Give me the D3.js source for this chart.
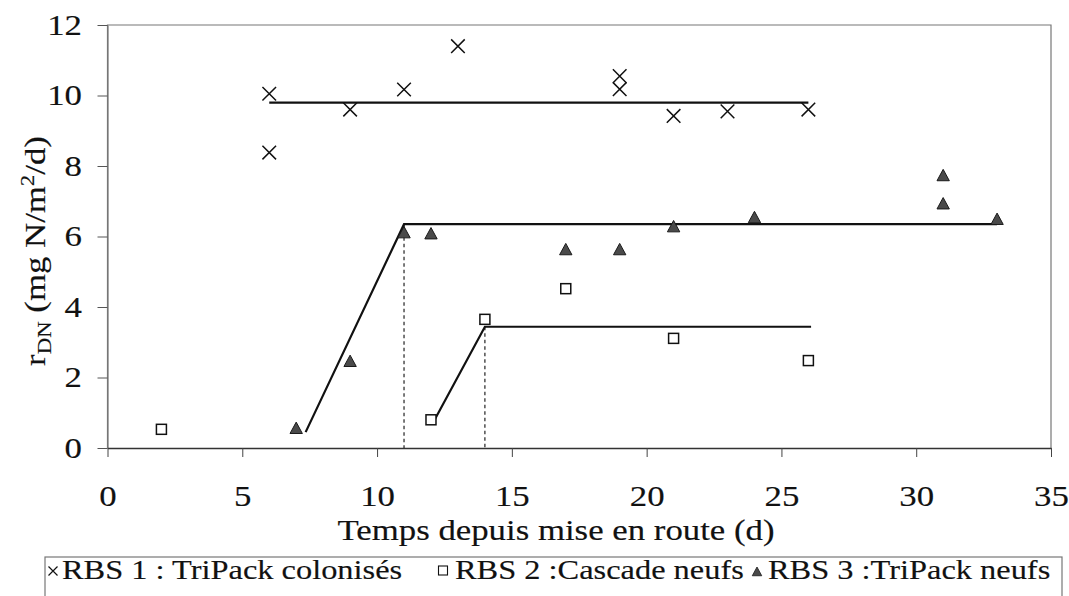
<!DOCTYPE html>
<html>
<head>
<meta charset="utf-8">
<script src="https://cdn.jsdelivr.net/npm/d3@7/dist/d3.min.js"></script>
<style>
  html, body { margin: 0; padding: 0; background: #fff; }
  svg { display: block; }
  text { font-family: "Liberation Serif", "Times New Roman", serif; fill: #111; stroke: #111; stroke-width: 0.15px; }
</style>
</head>
<body>
<svg id="chart" width="1069" height="596"></svg>
<script>
// Denitrification rate vs. time since start-up, three moving-bed reactors
const rbs1Days  = [6, 6, 9, 11, 13, 19, 19, 21, 23, 26];
const rbs1Rates = [10.05, 8.38, 9.6, 10.17, 11.4, 10.55, 10.18, 9.42, 9.55, 9.6];

const rbs2Days  = [2, 12, 14, 17, 21, 26];
const rbs2Rates = [0.53, 0.8, 3.65, 4.52, 3.11, 2.48];

const rbs3Days  = [7, 9, 11, 12, 17, 19, 21, 24, 31, 31, 33];
const rbs3Rates = [0.55, 2.45, 6.1, 6.07, 5.62, 5.62, 6.27, 6.53, 7.72, 6.92, 6.48];

// Fitted lag / plateau lines
const rbs1FitDays  = [6, 26];
const rbs1FitRates = [9.8, 9.8];
const rbs2FitDays  = [12.1, 14, 26.1];
const rbs2FitRates = [0.75, 3.44, 3.44];
const rbs3FitDays  = [7.35, 11, 33];
const rbs3FitRates = [0.45, 6.35, 6.35];

// Dashed drop lines marking the end of the lag phase
const lagEndDays  = [11, 14];
const lagEndRates = [6.35, 3.44];

const xTicks = [0, 5, 10, 15, 20, 25, 30, 35];
const yTicks = [0, 2, 4, 6, 8, 10, 12];

const legendLabels = ["RBS 1 : TriPack colonisés", "RBS 2 :Cascade neufs", "RBS 3 :TriPack neufs"];

const svg = d3.select("#chart");
const plotLeft = 107.5, plotRight = 1051, plotTop = 25, plotBottom = 448;
const stretch = 1.2;   // wide typeface look: glyphs drawn 20% wider

const x = d3.scaleLinear().domain([0, 35]).range([plotLeft, plotRight]);
const y = d3.scaleLinear().domain([0, 12]).range([plotBottom, plotTop]);

// Plot frame: thin grey top / left / right edges
svg.append("path")
  .attr("d", `M${plotLeft},${plotBottom}V${plotTop}H${plotRight}V${plotBottom}`)
  .attr("fill", "none")
  .attr("stroke", "#777")
  .attr("stroke-width", 1.2);

// Y axis
const yAxis = svg.append("g")
  .attr("transform", `translate(${plotLeft},0)`)
  .call(d3.axisLeft(y).tickValues(yTicks).tickSize(10).tickSizeOuter(0));
yAxis.select(".domain").attr("stroke", "#777").attr("stroke-width", 1.2);
yAxis.selectAll(".tick line").attr("stroke", "#555");
yAxis.selectAll(".tick text")
  .attr("x", 0)
  .attr("transform", `translate(-25.5,0) scale(${stretch},1)`)
  .attr("font-size", 29)
  .attr("font-family", "Liberation Serif, serif")
  .attr("fill", "#111");

// X axis
const xAxis = svg.append("g")
  .attr("transform", `translate(0,${plotBottom})`)
  .call(d3.axisBottom(x).tickValues(xTicks).tickSize(9).tickSizeOuter(0).tickPadding(28));
xAxis.select(".domain").attr("stroke", "#333").attr("stroke-width", 1.6);
xAxis.selectAll(".tick line").attr("stroke", "#444");
xAxis.selectAll(".tick text")
  .attr("transform", `scale(${stretch},1)`)
  .attr("font-size", 29)
  .attr("font-family", "Liberation Serif, serif")
  .attr("fill", "#111");

// Axis titles
svg.append("text")
  .attr("transform", `translate(556,540) scale(${stretch},1)`)
  .attr("text-anchor", "middle")
  .attr("font-size", 29)
  .text("Temps depuis mise en route (d)");

const yTitle = svg.append("text")
  .attr("transform", `translate(45,251) rotate(-90) scale(${stretch},1)`)
  .attr("text-anchor", "middle")
  .attr("font-size", 29);
yTitle.append("tspan").text("r");
yTitle.append("tspan").attr("font-size", 19).attr("dy", 6).text("DN");
yTitle.append("tspan").attr("dy", -6).text(" (mg N/m");
yTitle.append("tspan").attr("font-size", 19).attr("dy", -11).text("2");
yTitle.append("tspan").attr("dy", 11).text("/d)");

// Dashed drop lines
svg.append("g").selectAll("line")
  .data(lagEndDays)
  .join("line")
  .attr("x1", d => x(d)).attr("x2", d => x(d))
  .attr("y1", (d, i) => y(lagEndRates[i])).attr("y2", y(0))
  .attr("stroke", "#222").attr("stroke-width", 1.2)
  .attr("stroke-dasharray", "3.5,3");

// Fit lines
const line = d3.line().x(d => x(d[0])).y(d => y(d[1]));
[[rbs1FitDays, rbs1FitRates], [rbs2FitDays, rbs2FitRates], [rbs3FitDays, rbs3FitRates]].forEach(([ds, rs]) => {
  svg.append("path")
    .datum(ds.map((d, i) => [d, rs[i]]))
    .attr("d", line)
    .attr("fill", "none")
    .attr("stroke", "#111")
    .attr("stroke-width", 2.2);
});

// RBS 1 markers: crosses
const crossPath = s => `M${-s},${-s}L${s},${s}M${-s},${s}L${s},${-s}`;
svg.append("g").selectAll("path")
  .data(rbs1Days.map((d, i) => [d, rbs1Rates[i]]))
  .join("path")
  .attr("transform", d => `translate(${x(d[0])},${y(d[1])})`)
  .attr("d", crossPath(6.8))
  .attr("stroke", "#111").attr("stroke-width", 1.5).attr("fill", "none");

// RBS 2 markers: open squares
svg.append("g").selectAll("rect")
  .data(rbs2Days.map((d, i) => [d, rbs2Rates[i]]))
  .join("rect")
  .attr("x", d => x(d[0]) - 5).attr("y", d => y(d[1]) - 5)
  .attr("width", 10).attr("height", 10)
  .attr("fill", "#fff").attr("stroke", "#111").attr("stroke-width", 1.5);

// RBS 3 markers: filled triangles
const triPath = s => `M0,${-s}L${s * 0.95},${s * 0.75}L${-s * 0.95},${s * 0.75}Z`;
svg.append("g").selectAll("path")
  .data(rbs3Days.map((d, i) => [d, rbs3Rates[i]]))
  .join("path")
  .attr("transform", d => `translate(${x(d[0])},${y(d[1])})`)
  .attr("d", triPath(6.5))
  .attr("fill", "#4a4a4a").attr("stroke", "#1a1a1a").attr("stroke-width", 1);

// Legend
const legend = svg.append("g");
legend.append("rect")
  .attr("x", 45).attr("y", 557).attr("width", 1017).attr("height", 60)
  .attr("fill", "#fff").attr("stroke", "#777").attr("stroke-width", 1.2);

const legendBaseline = 579;
const legendSymbolX = [53, 443, 757];
const legendTextX = [62, 455, 768];

legend.append("path")
  .attr("transform", `translate(${legendSymbolX[0]},${legendBaseline - 8})`)
  .attr("d", crossPath(4.5))
  .attr("stroke", "#111").attr("stroke-width", 1.2);
legend.append("rect")
  .attr("x", legendSymbolX[1] - 4.5).attr("y", legendBaseline - 13)
  .attr("width", 9).attr("height", 9)
  .attr("fill", "#fff").attr("stroke", "#111").attr("stroke-width", 1.1);
legend.append("path")
  .attr("transform", `translate(${legendSymbolX[2]},${legendBaseline - 7})`)
  .attr("d", triPath(5))
  .attr("fill", "#4a4a4a").attr("stroke", "#1a1a1a").attr("stroke-width", 0.8);

legend.selectAll("text.lbl")
  .data(legendLabels)
  .join("text")
  .attr("class", "lbl")
  .attr("transform", (d, i) => `translate(${legendTextX[i]},${legendBaseline}) scale(${stretch},1)`)
  .attr("font-size", 27)
  .text(d => d);
</script>
</body>
</html>
